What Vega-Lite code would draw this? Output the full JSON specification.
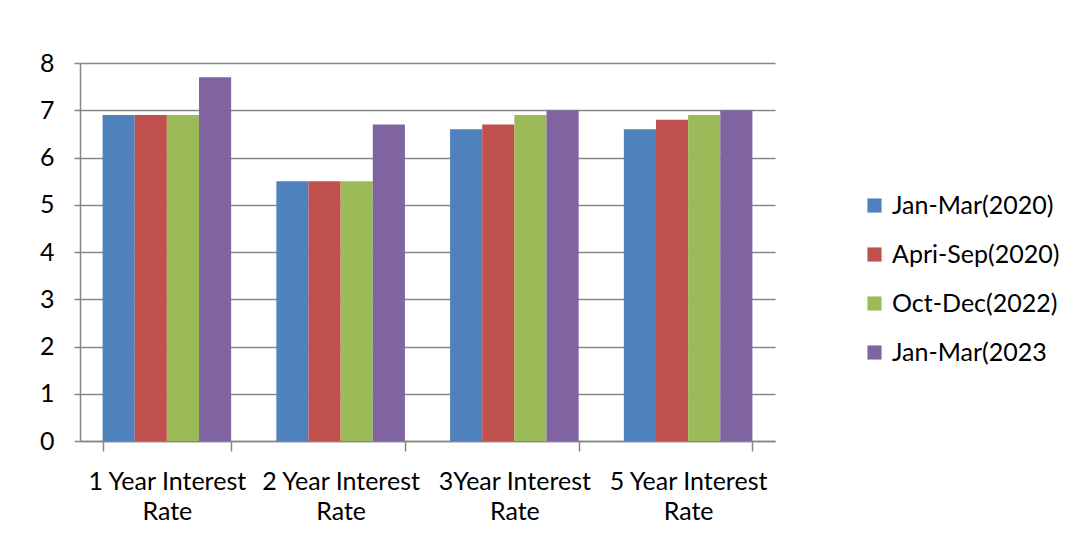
{
  "$schema": "https://vega.github.io/schema/vega-lite/v6.json",
  "autosize": "none",
  "width": 695,
  "height": 378,
  "padding": {"left": 80, "top": 63, "right": 290, "bottom": 100},
  "background": "white",
  "config": {"view": {"stroke": null}, "font": "Lato"},
  "data": {"values": [
    {"cat": "1 Year Interest Rate", "period": "Jan-Mar(2020)", "value": 6.9},
    {"cat": "1 Year Interest Rate", "period": "Apri-Sep(2020)", "value": 6.9},
    {"cat": "1 Year Interest Rate", "period": "Oct-Dec(2022)", "value": 6.9},
    {"cat": "1 Year Interest Rate", "period": "Jan-Mar(2023", "value": 7.7},
    {"cat": "2 Year Interest Rate", "period": "Jan-Mar(2020)", "value": 5.5},
    {"cat": "2 Year Interest Rate", "period": "Apri-Sep(2020)", "value": 5.5},
    {"cat": "2 Year Interest Rate", "period": "Oct-Dec(2022)", "value": 5.5},
    {"cat": "2 Year Interest Rate", "period": "Jan-Mar(2023", "value": 6.7},
    {"cat": "3Year Interest Rate", "period": "Jan-Mar(2020)", "value": 6.6},
    {"cat": "3Year Interest Rate", "period": "Apri-Sep(2020)", "value": 6.7},
    {"cat": "3Year Interest Rate", "period": "Oct-Dec(2022)", "value": 6.9},
    {"cat": "3Year Interest Rate", "period": "Jan-Mar(2023", "value": 7.0},
    {"cat": "5 Year Interest Rate", "period": "Jan-Mar(2020)", "value": 6.6},
    {"cat": "5 Year Interest Rate", "period": "Apri-Sep(2020)", "value": 6.8},
    {"cat": "5 Year Interest Rate", "period": "Oct-Dec(2022)", "value": 6.9},
    {"cat": "5 Year Interest Rate", "period": "Jan-Mar(2023", "value": 7.0}
  ]},
  "mark": {"type": "bar", "stroke": null},
  "encoding": {
    "x": {
      "field": "cat", "type": "nominal", "sort": null,
      "scale": {"paddingInner": 0.26, "paddingOuter": 0.13},
      "axis": {
        "title": null, "labelAngle": 0, "labelFontSize": 25, "labelColor": "#000000",
        "labelExpr": "datum.label ? [slice(datum.label, 0, -5), 'Rate'] : ''",
        "labelLineHeight": 30, "labelPadding": 18,
        "tickBand": "extent", "tickSize": 10, "tickColor": "#868686", "tickWidth": 1.5,
        "domainColor": "#868686", "domainWidth": 1.5, "grid": false
      }
    },
    "xOffset": {"field": "period", "type": "nominal", "sort": null},
    "y": {
      "field": "value", "type": "quantitative",
      "scale": {"domain": [0, 8]},
      "axis": {
        "title": null, "values": [0,1,2,3,4,5,6,7,8], "labelFontSize": 25, "labelColor": "#000000",
        "labelPadding": 20, "tickSize": 6, "tickColor": "#868686", "tickWidth": 1.5,
        "domainColor": "#868686", "domainWidth": 1.5,
        "grid": true, "gridColor": "#868686", "gridWidth": 1.5
      }
    },
    "color": {
      "field": "period", "type": "nominal", "sort": null,
      "scale": {
        "domain": ["Jan-Mar(2020)", "Apri-Sep(2020)", "Oct-Dec(2022)", "Jan-Mar(2023"],
        "range": ["#4F81BD", "#C0504D", "#9BBB59", "#8064A2"]
      },
      "legend": {
        "title": null, "orient": "none", "legendX": 782, "legendY": 130,
        "symbolType": "square", "symbolSize": 200, "symbolStrokeWidth": 0,
        "labelFontSize": 25, "labelLimit": 300, "labelColor": "#000000", "rowPadding": 23, "labelOffset": 5
      }
    }
  }
}
